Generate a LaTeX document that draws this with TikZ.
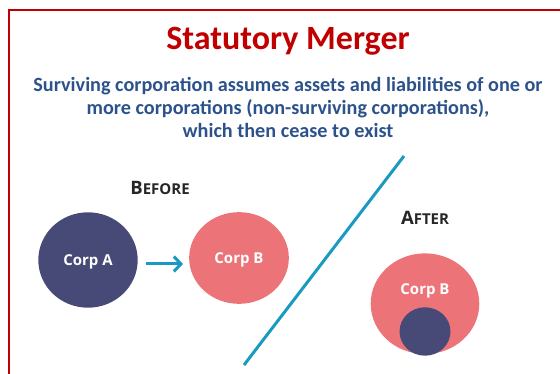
\documentclass[tikz,border=0pt]{standalone}
\usepackage{fontspec}
\setmainfont{Carlito}
\newfontfamily\capsfont{Open Sans}
\usetikzlibrary{shapes.geometric,arrows.meta,positioning}
\definecolor{frameRed}{HTML}{C00000}
\definecolor{subBlue}{HTML}{2C528C}
\definecolor{corpNavy}{HTML}{474A77}
\definecolor{corpPink}{HTML}{EC7479}
\definecolor{slashTeal}{HTML}{1B9AC1}
\definecolor{capsGray}{HTML}{262626}
\begin{document}
\begin{tikzpicture}[x=1pt,y=-1pt,
      corp/.style={ellipse, inner sep=0pt, text=white, text height=10.7pt, text depth=0pt, font=\capsfont\fontsize{15}{17}\selectfont\bfseries},
      corpa/.style={corp, fill=corpNavy},
      corpb/.style={corp, fill=corpPink},
      phase/.style={anchor=base, text=capsGray, inner sep=0pt, font=\capsfont\bfseries},
      pfeil/.style={-{Straight Barb[length=7pt,width=15pt]}, line width=3pt, draw=slashTeal},
      slash/.style={line width=3pt, draw=slashTeal}]

\useasboundingbox (0,0) rectangle (560,374);
\coordinate (frametr) at (560,10);
\coordinate (frametl) at (9,10);
\coordinate (framebl) at (9,374);
\draw[frameRed, line width=1.7pt] (frametr) -- (frametl) -- (framebl);

\node[anchor=base, inner sep=0pt, text=frameRed, font=\fontsize{34}{38}\selectfont\bfseries] (title) at (288,49.3) {Statutory Merger};
\node[anchor=north, inner sep=0pt, align=center, text=subBlue, font=\fontsize{20.2}{23}\selectfont\bfseries] (sub) at (288,77.5) {Surviving corporation assumes assets and liabilities of one or\\more corporations (non-surviving corporations),\\which then cease to exist};

\node[phase] (before) at (160,195) {{\fontsize{18.5}{18}\selectfont B}{\fontsize{15}{14}\selectfont EFORE}};
\node[phase] (after) at (425,224.3) {{\fontsize{18.5}{18}\selectfont A}{\fontsize{15}{14}\selectfont FTER}};

\node[corpa, minimum width=99.4pt, minimum height=95.4pt] (corpA) at (88,260) {Corp A};
\node[corpb, minimum width=99.7pt, minimum height=91.7pt] (corpB) at (239,258) {Corp B};
\draw[pfeil] ([shift={(8,4)}]corpA.east) -- ([shift={(-6,6)}]corpB.west);

\coordinate (slashtop) at (404,156);
\coordinate (slashbot) at (244,365);
\draw[slash] (slashtop) -- (slashbot);

\node[corpb, minimum width=108.6pt, minimum height=100.7pt] (corpBafter) at (425,303.7) {};
\node[corpa, minimum width=51pt, minimum height=48.4pt] (corpAin) at (425,331.5) {};
\node[corp, anchor=base] (afterlabel) at (425,295) {Corp B};

\end{tikzpicture}
\end{document}
